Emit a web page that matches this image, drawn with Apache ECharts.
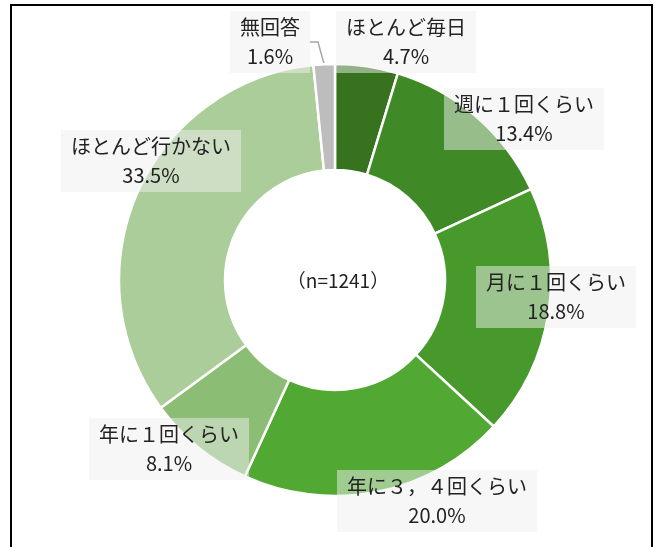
<!DOCTYPE html>
<html>
<head>
<meta charset="utf-8">
<script src="https://cdn.jsdelivr.net/npm/echarts@6/dist/echarts.min.js"></script>
<style>
  html, body { margin: 0; padding: 0; background: #fff; }
  #chart { width: 657px; height: 547px; }
</style>
</head>
<body>
<div id="chart"></div>
<script>
// 回答カテゴリと割合(%)
var categories = ['ほとんど毎日', '週に１回くらい', '月に１回くらい', '年に３，４回くらい', '年に１回くらい', 'ほとんど行かない', '無回答'];
var values = [4.7, 13.4, 18.8, 20.0, 8.1, 33.5, 1.6];
var centerText = '（n=1241）';

var colors = ['#37731f', '#3f8a26', '#48992c', '#51a832', '#8bbd75', '#aacd9a', '#bdbdbd'];
// ラベルの置き場所 (中心座標)
var labelPos = [[406, 42], [524, 119], [556, 297], [437, 501], [169, 449], [151, 161], [270, 42]];

var myChart = echarts.init(document.getElementById('chart'));

var option = {
  animation: false,
  graphic: [
    {
      type: 'rect',
      shape: { x: 11, y: 5, width: 641, height: 560 },
      style: { fill: 'none', stroke: '#000', lineWidth: 2 }
    },
    {
      type: 'text',
      x: 338, y: 281,
      style: {
        text: centerText,
        align: 'center',
        verticalAlign: 'middle',
        fontSize: 19,
        fontFamily: 'Noto Sans CJK JP',
        fill: '#222'
      }
    }
  ],
  series: [{
    type: 'pie',
    center: [335, 280],
    radius: [110, 216],
    startAngle: 90,
    clockwise: true,
    itemStyle: { borderColor: '#fff', borderWidth: 2.5 },
    label: {
      show: true,
      position: 'inside',
      overflow: 'none',
      formatter: function (p) { return p.name + '\n' + p.value.toFixed(1) + '%'; },
      fontFamily: 'Noto Sans CJK JP',
      fontSize: 20,
      lineHeight: 29,
      color: '#222',
      align: 'center',
      backgroundColor: 'rgba(240,240,240,0.5)',
      padding: [2, 10]
    },
    labelLine: { show: false },
    labelLayout: function (params) {
      var p = labelPos[params.dataIndex];
      return { x: p[0], y: p[1], align: 'center', verticalAlign: 'middle' };
    },
    data: categories.map(function (c, i) {
      var d = { name: c, value: values[i], itemStyle: { color: colors[i] } };
      if (i === categories.length - 1) {
        d.label = { position: 'outside', alignTo: 'none' };
        d.labelLine = { show: true, length: 20, length2: 8, lineStyle: { color: '#a6a6a6', width: 1.5 } };
      }
      return d;
    })
  }]
};

myChart.setOption(option);
</script>
</body>
</html>
